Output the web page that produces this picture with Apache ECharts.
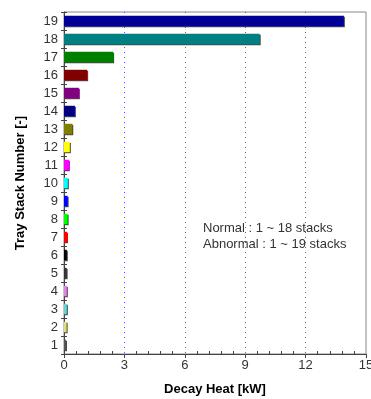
<!DOCTYPE html>
<html>
<head>
<meta charset="utf-8">
<script src="https://cdn.jsdelivr.net/npm/echarts@6/dist/echarts.min.js"></script>
<style>
  html, body { margin: 0; padding: 0; background: #fff; }
  #chart { width: 371px; height: 399px; }
</style>
</head>
<body>
<div id="chart"></div>
<script>
// Tray stacks 1..19 and the decay heat of each stack (kW)
const stacks = ['1','2','3','4','5','6','7','8','9','10','11','12','13','14','15','16','17','18','19'];
const decayHeat = [0.10, 0.13, 0.14, 0.14, 0.13, 0.14, 0.15, 0.18, 0.18, 0.19, 0.24, 0.29, 0.41, 0.54, 0.74, 1.15, 2.44, 9.72, 13.9];
const stackColors = ['#555555','#dede80','#70d0d0','#dd88dd','#333333','#000000','#ff0000','#00ff00','#0000ff','#00ffff',
                     '#ff00ff','#ffff00','#808000','#000080','#800080','#800000','#008000','#008080','#000099'];
const xTicks = { min: 0, max: 15, interval: 3 };
const noteLines = ['Normal : 1 ~ 18 stacks', 'Abnormal : 1 ~ 19 stacks'];

const chart = echarts.init(document.getElementById('chart'), null, { renderer: 'canvas' });
const labelFont = { fontFamily: 'Liberation Sans, Arial, sans-serif', fontSize: 13, color: '#333' };
const titleFont = { fontFamily: 'Liberation Sans, Arial, sans-serif', fontSize: 13, fontWeight: 'bold', color: '#000' };

chart.setOption({
  animation: false,
  backgroundColor: '#fff',
  grid: { left: 64, right: 5, top: 12, bottom: 45, outerBoundsMode: 'none', containLabel: false,
          show: true, borderColor: '#888', borderWidth: 1, backgroundColor: 'transparent' },
  xAxis: [{
    type: 'value', min: xTicks.min, max: xTicks.max, interval: xTicks.interval,
    name: 'Decay Heat [kW]', nameLocation: 'middle', nameGap: 29, nameTextStyle: titleFont,
    axisLine: { show: true, lineStyle: { color: '#444', width: 1 } },
    axisTick: { show: true, length: 4, lineStyle: { color: '#444' } },
    minorTick: { show: true, splitNumber: 5, length: -3, lineStyle: { color: '#444' } },
    axisLabel: Object.assign({ margin: 5 }, labelFont),
    splitLine: { show: true, showMinLine: false, showMaxLine: false, lineStyle: { color: '#5555ee', type: [1, 4], width: 1 } }
  }],
  yAxis: [{
    type: 'category', data: stacks, boundaryGap: true,
    name: 'Tray Stack Number [-]', nameLocation: 'middle', nameGap: 37, nameTextStyle: titleFont,
    axisLine: { show: true, lineStyle: { color: '#444', width: 1 } },
    axisTick: { show: true, length: 3, interval: 0, lineStyle: { color: '#444' } },
    axisLabel: Object.assign({ margin: 6, interval: 0 }, labelFont),
    splitLine: { show: false }
  }, {
    type: 'category', data: stacks, position: 'left', boundaryGap: true,
    axisLine: { show: false },
    axisTick: { show: true, inside: true, length: 3, interval: 0, lineStyle: { color: '#444' } },
    axisLabel: { show: false },
    splitLine: { show: false }
  }],
  series: [{
    type: 'bar',
    yAxisIndex: 0,
    barWidth: '58%',
    data: decayHeat.map((v, i) => ({ value: v, itemStyle: { color: stackColors[i] } })),
    itemStyle: { borderWidth: 0, shadowColor: 'rgba(40,40,40,0.85)', shadowOffsetX: 1, shadowOffsetY: 1, shadowBlur: 0 }
  }],
  graphic: noteLines.map((t, i) => ({
    type: 'text', left: 203, top: 222 + i * 16,
    style: { text: t, fontFamily: 'Liberation Sans, Arial, sans-serif', fontSize: 13, fill: '#333' }
  }))
});
</script>
</body>
</html>
